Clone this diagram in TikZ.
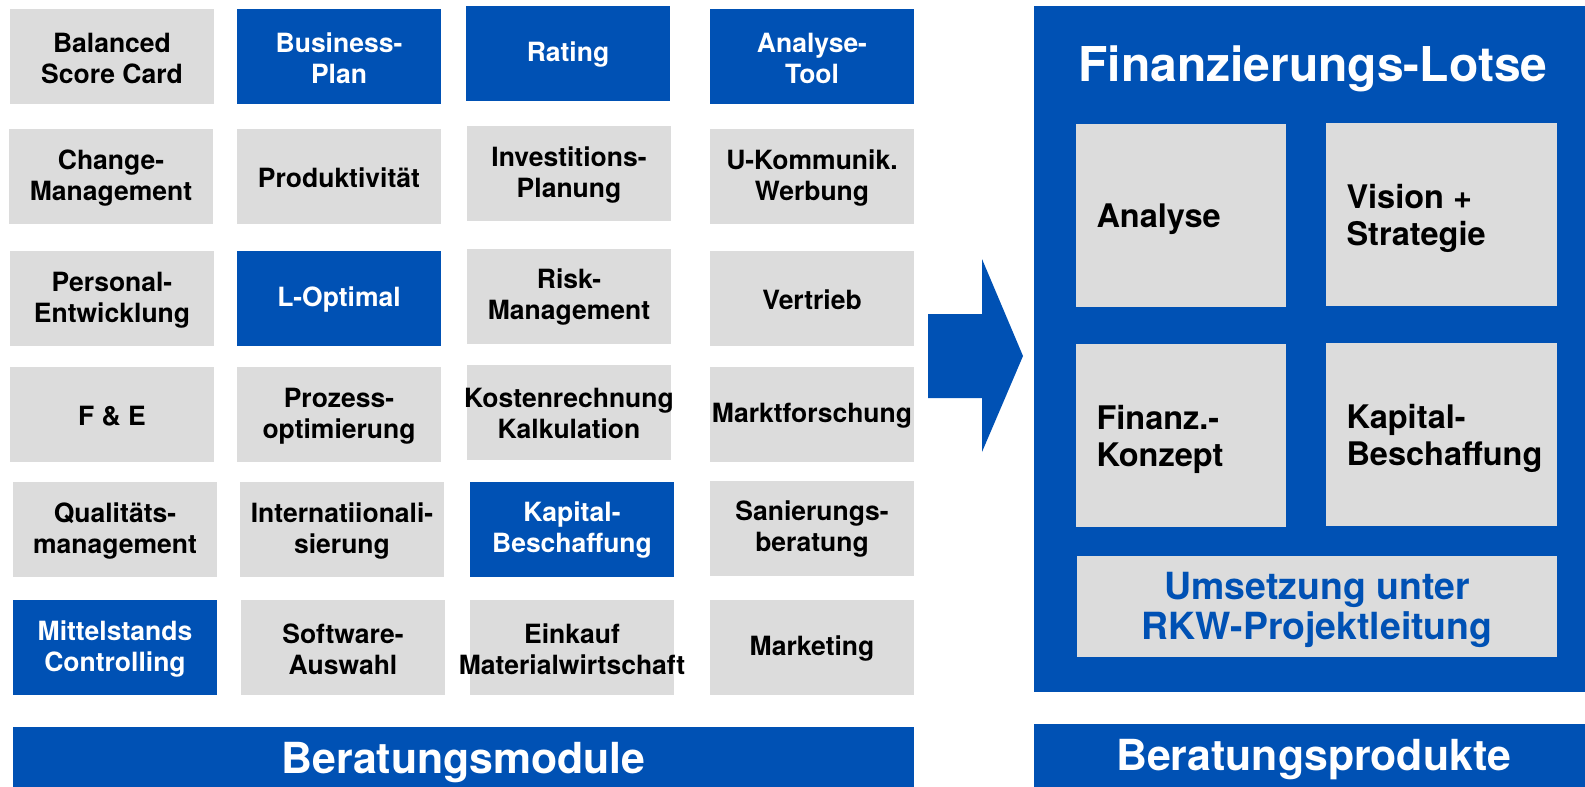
\documentclass[tikz,border=0pt]{standalone}
\usepackage{fontspec}
\setmainfont{TeX Gyre Heros}
\definecolor{rkwblue}{RGB}{0,81,180}
\definecolor{boxgray}{RGB}{220,220,220}
\hyphenpenalty=10000
\exhyphenpenalty=10000
\newcommand\mymod[5]{%
  \node[modbox,#2] (#1) at (#3,#4) {};
  \node[modtext,#2text] (#1-t) at (#1.center) {#5};
}
\newcommand\myinner[5]{%
  \node[innerbox,minimum width=#4pt] (#1) at (#2,#3) {};
  \node[innertext] (#1-t) at ([xshift=20.5pt,yshift=-4pt]#1.west) {#5};
}
\begin{document}
\begin{tikzpicture}[x=1pt,y=-1pt,
  modbox/.style={minimum width=204pt,minimum height=95pt,inner sep=0pt,draw=none},
  gbox/.style={fill=boxgray},
  bbox/.style={fill=rkwblue},
  modtext/.style={inner sep=0pt,align=center,yshift=-1.5pt,font=\bfseries\fontsize{26.5}{31}\selectfont},
  gboxtext/.style={text=black},
  bboxtext/.style={text=white},
  innerbox/.style={fill=boxgray,minimum height=182.7pt,inner sep=0pt},
  innertext/.style={anchor=west,inner sep=0pt,align=left,text=black,font=\bfseries\fontsize{32.5}{37.5}\selectfont},
  barbox/.style={fill=rkwblue,inner sep=0pt},
  bartext/.style={text=white,inner sep=0pt,anchor=base,font=\bfseries\fontsize{42.8}{48}\selectfont}
]
\useasboundingbox (0,0) rectangle (1585,787);
% ---------- module grid ----------
\mymod{m11}{gbox}{112}{56.5}{Balanced\\Score Card}
\mymod{m12}{bbox}{339}{56.5}{Business-\\Plan}
\mymod{m13}{bbox}{568}{53.5}{Rating}
\mymod{m14}{bbox}{812}{56.5}{Analyse-\\Tool}
\mymod{m21}{gbox}{111}{176.5}{Change-\\Management}
\mymod{m22}{gbox}{339}{176.5}{Produktivität}
\mymod{m23}{gbox}{569}{173.5}{Investitions-\\Planung}
\mymod{m24}{gbox}{812}{176.5}{U-Kommunik.\\Werbung}
\mymod{m31}{gbox}{112}{298.5}{Personal-\\Entwicklung}
\mymod{m32}{bbox}{339}{298.5}{L-Optimal}
\mymod{m33}{gbox}{569}{296}{Risk-\\Management}
\mymod{m34}{gbox}{812}{298.5}{Vertrieb}
\mymod{m41}{gbox}{112}{414.5}{F \& E}
\mymod{m42}{gbox}{339}{414.5}{Prozess-\\optimierung}
\mymod{m43}{gbox}{569}{412}{Kostenrechnung\\Kalkulation}
\mymod{m44}{gbox}{812}{414.5}{Marktforschung}
\mymod{m51}{gbox}{115}{529.5}{Qualitäts-\\management}
\mymod{m52}{gbox}{342}{529.5}{Internatiionali-\\sierung}
\mymod{m53}{bbox}{572}{529}{Kapital-\\Beschaffung}
\mymod{m54}{gbox}{812}{528}{Sanierungs-\\beratung}
\mymod{m61}{bbox}{115}{647.5}{Mittelstands\\Controlling}
\mymod{m62}{gbox}{343}{647.5}{Software-\\Auswahl}
\mymod{m63}{gbox}{572}{647.5}{Einkauf\\Materialwirtschaft}
\mymod{m64}{gbox}{812}{647.5}{Marketing}
% ---------- left bar ----------
\node[barbox,minimum width=901pt,minimum height=60pt] (barL) at (463.5,757) {};
\node[bartext] (barL-t) at (463.5,773) {Beratungsmodule};
% ---------- arrow ----------
\fill[rkwblue] (928,314) -- (982,314) -- (982,259) -- (1023,356) -- (982,452) -- (982,398) -- (928,398) -- cycle;
% ---------- right panel ----------
\node[barbox,minimum width=551pt,minimum height=686pt] (panel) at (1309.5,349) {};
\node[text=white,inner sep=0pt,anchor=base,font=\bfseries\fontsize{48}{56}\selectfont] (title) at (1313,81) {Finanzierungs-Lotse};
\myinner{p1}{1181}{215.3}{210}{Analyse}
\myinner{p2}{1441.5}{214.3}{231}{Vision +\\Strategie}
\myinner{p3}{1181}{435.3}{210}{Finanz.-\\Konzept}
\myinner{p4}{1441.5}{434.3}{231}{Kapital-\\Beschaffung}
\node[fill=boxgray,minimum width=480pt,minimum height=100.7pt,inner sep=0pt] (p5) at (1317,606.3) {};
\node[text=rkwblue,inner sep=0pt,align=center,yshift=-4pt,font=\bfseries\fontsize{37.4}{40}\selectfont] (p5-t) at (p5.center) {Umsetzung unter\\RKW-Projektleitung};
% ---------- right bar ----------
\node[barbox,minimum width=551pt,minimum height=63pt] (barR) at (1309.5,755.5) {};
\node[bartext] (barR-t) at (1313.5,770.7) {Beratungsprodukte};
\end{tikzpicture}
\end{document}
